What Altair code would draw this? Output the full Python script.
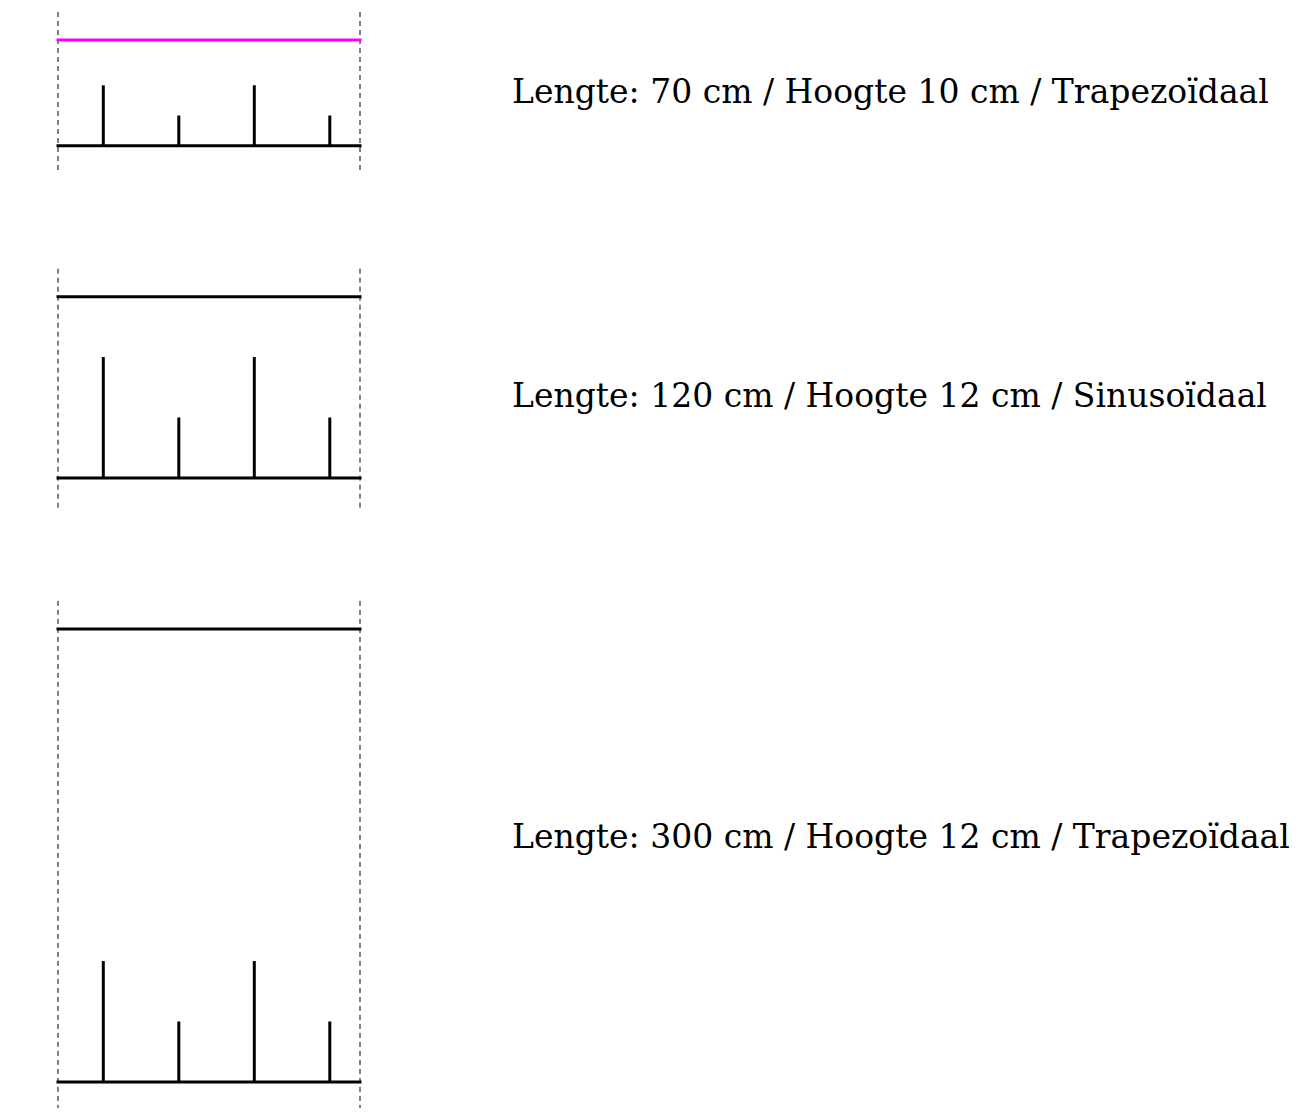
import altair as alt
import pandas as pd

# ---- data ----
lengths = [70, 120, 300]                 # cm
heights = [10, 12, 12]                   # cm
profiles = ["Trapezoïdaal", "Sinusoïdaal", "Trapezoïdaal"]
panel_width = 200                        # cm
tick_x = [30, 80, 130, 180]              # cm
tick_h = [[40, 20, 40, 20], [80, 40, 80, 40], [80, 40, 80, 40]]
highlight = [True, False, False]

# ---- layout (px) ----
K = 1.51            # px per cm
W, H = 1292, 1100   # plot area
LEFT_PX = 50
START_PX = 4
EXT_PX = 28
GAP_PX = 95
LABEL_X_PX = 504
LABEL_BASELINE_PX = [95, 399, 840]

def cm(px):
    return px / K

frames_h, frames_dash, frames_tick, frames_text = [], [], [], []
cursor = cm(START_PX)
for i, L in enumerate(lengths):
    top = cursor + cm(EXT_PX)
    base = top + L
    bottom = base + cm(EXT_PX + 2 * i)
    frames_dash += [dict(x=0, y=cursor, y2=bottom), dict(x=panel_width, y=cursor, y2=bottom)]
    frames_h += [dict(x=0, x2=panel_width, y=top, kind="top_hl" if highlight[i] else "top"),
                 dict(x=0, x2=panel_width, y=base, kind="base")]
    for tx, th in zip(tick_x, tick_h[i]):
        frames_tick.append(dict(x=tx, y=base, y2=base - th))
    frames_text.append(dict(x=cm(LABEL_X_PX - LEFT_PX), y=cm(LABEL_BASELINE_PX[i]),
                            label=f"Lengte: {L} cm / Hoogte {heights[i]} cm / {profiles[i]}"))
    cursor = base + cm(EXT_PX) + cm(GAP_PX)

xs = alt.Scale(domain=[cm(-LEFT_PX), cm(W - LEFT_PX)], nice=False, zero=False)
ys = alt.Scale(domain=[0, cm(H)], nice=False, zero=False, reverse=True)

dash = alt.Chart(pd.DataFrame(frames_dash)).mark_rule(
    color="#000", strokeWidth=1, strokeDash=[5, 4]
).encode(x=alt.X("x:Q", scale=xs, axis=None),
         y=alt.Y("y:Q", scale=ys, axis=None), y2="y2:Q")

hl = alt.Chart(pd.DataFrame(frames_h)).mark_rule(strokeWidth=3, strokeCap="square").encode(
    x=alt.X("x:Q", scale=xs, axis=None), x2="x2:Q",
    y=alt.Y("y:Q", scale=ys, axis=None),
    color=alt.Color("kind:N", scale=alt.Scale(domain=["top_hl", "top", "base"],
                                              range=["#ff00ff", "#000000", "#000000"]),
                    legend=None),
)

ticks = alt.Chart(pd.DataFrame(frames_tick)).mark_rule(color="#000", strokeWidth=3).encode(
    x=alt.X("x:Q", scale=xs, axis=None),
    y=alt.Y("y:Q", scale=ys, axis=None), y2="y2:Q")

text = alt.Chart(pd.DataFrame(frames_text)).mark_text(
    align="left", baseline="alphabetic", font="DejaVu Serif", fontSize=33, color="#000"
).encode(x=alt.X("x:Q", scale=xs, axis=None),
         y=alt.Y("y:Q", scale=ys, axis=None), text="label:N")

chart = alt.layer(dash, hl, ticks, text).properties(
    width=W, height=H, padding=0, autosize=alt.AutoSizeParams(type="none")
).configure_view(stroke=None)

chart.save("out.html", embed_options={"renderer": "svg", "actions": False})
